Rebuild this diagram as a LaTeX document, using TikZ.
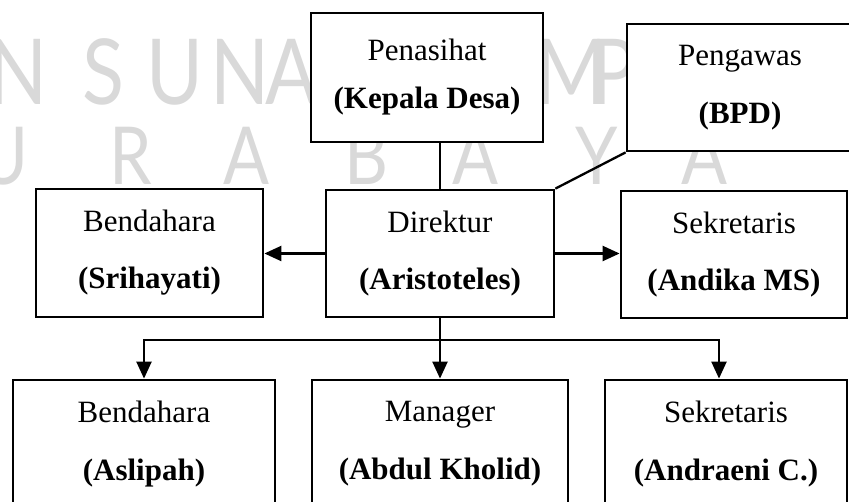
\documentclass[tikz,border=0pt]{standalone}
\usepackage{fontspec}
\setmainfont{Liberation Serif}
\newfontfamily\wmfont{Lato}
\usetikzlibrary{arrows.meta}
\begin{document}
\begin{tikzpicture}[x=1pt,y=1pt,
  orgbox/.style={draw, line width=2.8pt, fill=white, align=center, inner sep=0pt,
    font=\fontsize{31}{57}\selectfont},
  link/.style={line width=2.3pt},
  arr/.style={link, -{Triangle[length=17pt,width=15pt]}},
  wm/.style={text=black!15, inner sep=0pt, anchor=base, xscale=0.85,
    font=\wmfont\fontsize{91}{91}\selectfont},
  wmb/.style={wm, font=\wmfont\fontsize{80}{80}\selectfont}
]
\useasboundingbox (0,0) rectangle (849,501);
% watermark (background)
\node[wm] (wa) at (18,396) {N};
\node[wm] (wb) at (103,396) {S};
\node[wm] (wc) at (175,396) {U};
\node[wm] (wd) at (240,396) {N};
\node[wm] (we) at (292,396) {A};
\node[wm] (wf) at (571,396) {M};
\node[wm] (wg) at (614,396) {P};
\node[wmb] (wh) at (4,316) {U};
\node[wmb] (wi) at (131,316) {R};
\node[wmb] (wj) at (247,316) {A};
\node[wmb] (wk) at (366,316) {B};
\node[wmb] (wl) at (476,316) {A};
\node[wmb] (wm) at (597,316) {Y};
\node[wmb] (wn) at (705,316) {A};
% boxes
\node[orgbox, minimum width=232pt, minimum height=129pt, font=\fontsize{31}{48}\selectfont]
  (pen) at (427,423.5) {Penasihat\\\textbf{(Kepala Desa)}};
\node[orgbox, minimum width=226pt, minimum height=127pt, font=\fontsize{31}{58}\selectfont]
  (peng) at (740,413.5) {Pengawas\\\textbf{(BPD)}};
\node[orgbox, minimum width=227pt, minimum height=128pt] (bend1) at (149.5,248)
  {Bendahara\\\textbf{(Srihayati)}};
\node[orgbox, minimum width=228pt, minimum height=127pt] (dir) at (440,247.5)
  {Direktur\\\textbf{(Aristoteles)}};
\node[orgbox, minimum width=226pt, minimum height=127pt] (sek1) at (734,246.5)
  {Sekretaris\\\textbf{(Andika MS)}};
\node[orgbox, minimum width=262pt, minimum height=128pt, font=\fontsize{31}{58}\selectfont]
  (bend2) at (144,57) {Bendahara\\\textbf{(Aslipah)}};
\node[orgbox, minimum width=256pt, minimum height=128pt, font=\fontsize{31}{58}\selectfont]
  (man) at (440,57) {Manager\\\textbf{(Abdul Kholid)}};
\node[orgbox, minimum width=242pt, minimum height=128pt, font=\fontsize{31}{58}\selectfont]
  (sek2) at (726,57) {Sekretaris\\\textbf{(Andraeni C.)}};
% connectors
\draw[link] (dir.north) -- (dir.north |- pen.south);
\draw[link] (peng.south west) -- (dir.north east);
\draw[arr] (dir.west) -- (dir.west -| bend1.east);
\draw[arr] (dir.east) -- (dir.east -| sek1.west);
\coordinate (jn) at (440,161);
\draw[arr] (dir.south) -- (man.north);
\draw[arr] (jn) -| (bend2.north);
\draw[arr] (jn) -| ([xshift=-7pt]sek2.north);
\end{tikzpicture}
\end{document}
